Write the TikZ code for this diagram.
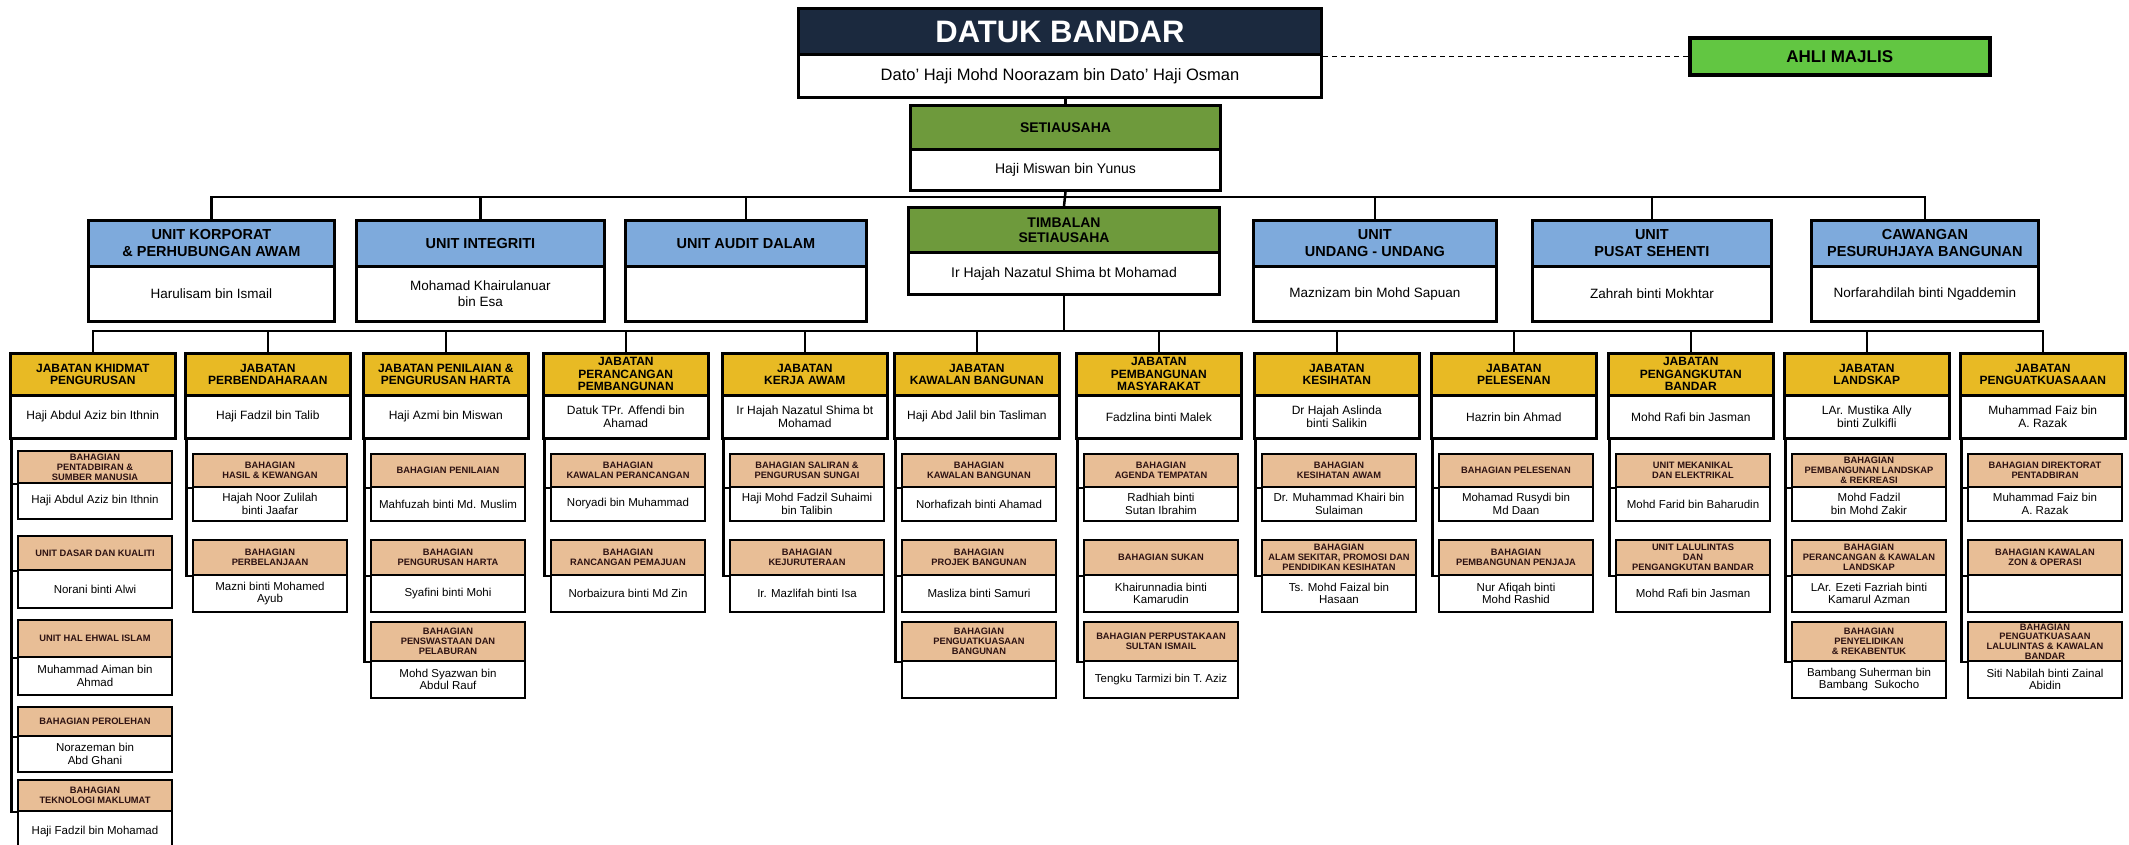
\documentclass[tikz,border=0pt]{standalone}
\usepackage{fontspec}
\setmainfont{Liberation Sans}
\usetikzlibrary{backgrounds}
\newcommand\fsz[2]{\fontsize{#1}{#2}\selectfont}
\definecolor{cNavy}{RGB}{27,41,62}
\definecolor{cAhli}{RGB}{98,198,66}
\definecolor{cOlive}{RGB}{110,154,60}
\definecolor{cBlue}{RGB}{126,170,220}
\definecolor{cGold}{RGB}{232,186,36}
\definecolor{cTan}{RGB}{232,190,150}
\definecolor{cSubTxt}{RGB}{45,18,18}
% box with header and body: name, left, right, top, split, bottom, kind, header text, body text
\newcommand\obox[9]{%
  \pgfmathsetmacro\oboxW{#3-#2}%
  \pgfmathsetmacro\oboxH{#5-#4}%
  \pgfmathsetmacro\oboxB{#6-#5}%
  \node[#7head, minimum width=\oboxW pt, minimum height=\oboxH pt, anchor=north west] (#1h) at (#2,#4) {#8};
  \node[#7body, minimum width=\oboxW pt, minimum height=\oboxB pt, anchor=north west] (#1b) at (#2,#5) {#9};
}
\newcommand\dept[4]{%
  \pgfmathsetmacro\deptR{#2+165}%
  \obox{#1}{#2}{\deptR}{352}{394}{437}{dept}{#3}{#4}}
\newcommand\subbox[7]{%
  \pgfmathsetmacro\subL{#2+8}%
  \pgfmathsetmacro\subR{#2+162}%
  \obox{#1}{\subL}{\subR}{#3}{#4}{#5}{sub}{#6}{#7}}
\newcommand\spine[2]{%
  \coordinate (#1sp) at ([xshift=2.5pt]#1b.south west);
  \foreach \sname in {#2}{\draw[conn] (#1sp) |- (\sname h.south west);}}
\begin{document}
\begin{tikzpicture}[x=1pt,y=-1pt,
  box/.style={draw=black, inner sep=1pt, align=center, text=black},
  tophead/.style={box, fill=cNavy, text=white, font={\bfseries\fsz{31}{34}}, line width=3pt},
  topbody/.style={box, fill=white, font={\fsz{16.5}{18}}, line width=3pt},
  greenhead/.style={box, fill=cOlive, font={\bfseries\fsz{14}{15.5}}, line width=3pt},
  greenbody/.style={box, fill=white, font={\fsz{14}{16}}, line width=3pt},
  unithead/.style={box, fill=cBlue, font={\bfseries\fsz{14.5}{17}}, line width=2.8pt},
  unitbody/.style={box, fill=white, font={\fsz{13.5}{16}}, line width=2.8pt},
  depthead/.style={box, fill=cGold, font={\bfseries\fsz{12}{12.5}}, line width=2.6pt},
  deptbody/.style={box, fill=white, font={\fsz{12}{12.8}}, line width=2.6pt},
  subhead/.style={box, fill=cTan, text=cSubTxt, font={\bfseries\fsz{9.3}{9.8}}, line width=2pt},
  subbody/.style={box, fill=white, font={\fsz{11.5}{12.5}}, line width=2pt},
  ahlibox/.style={box, fill=cAhli, font={\bfseries\fsz{17}{19}}, line width=3.5pt},
  conn/.style={draw=black, line width=2.5pt},
  dashconn/.style={draw=black, line width=1.3pt, dash pattern=on 5pt off 4pt}]
\begin{pgfonlayer}{background}
\fill[white] (0,0) rectangle (2129,844);
\end{pgfonlayer}
\useasboundingbox (0,0) rectangle (2129,844);

% top level
\obox{datuk}{797}{1320}{7}{53}{96}{top}{DATUK BANDAR}{Dato' Haji Mohd Noorazam bin Dato' Haji Osman}
\node[ahlibox, minimum width=300pt, minimum height=37pt, anchor=north west] (ahli) at (1688,36) {AHLI MAJLIS};
\obox{setia}{909}{1219}{104}{148}{189}{green}{SETIAUSAHA}{Haji Miswan bin Yunus}
\obox{timb}{907}{1218}{206}{251}{293}{green}{TIMBALAN\\SETIAUSAHA}{Ir Hajah Nazatul Shima bt Mohamad}

% units
\obox{kor}{87}{333}{219}{265}{320}{unit}{UNIT KORPORAT\\\& PERHUBUNGAN AWAM}{Harulisam bin Ismail}
\obox{int}{355}{603}{219}{265}{320}{unit}{UNIT INTEGRITI}{Mohamad Khairulanuar\\bin Esa}
\obox{aud}{624}{865}{219}{265}{320}{unit}{UNIT AUDIT DALAM}{}
\obox{und}{1252}{1495}{219}{265}{320}{unit}{UNIT\\UNDANG - UNDANG}{Maznizam bin Mohd Sapuan}
\obox{pus}{1531}{1770}{219}{265}{320}{unit}{UNIT\\PUSAT SEHENTI}{Zahrah binti Mokhtar}
\obox{caw}{1810}{2037}{219}{265}{320}{unit}{CAWANGAN\\PESURUHJAYA BANGUNAN}{Norfarahdilah binti Ngaddemin}

% departments
\dept{d1}{9}{JABATAN KHIDMAT\\PENGURUSAN}{Haji Abdul Aziz bin Ithnin}
\dept{d2}{184}{JABATAN\\PERBENDAHARAAN}{Haji Fadzil bin Talib}
\dept{d3}{362}{JABATAN PENILAIAN \&\\PENGURUSAN HARTA}{Haji Azmi bin Miswan}
\dept{d4}{542}{JABATAN\\PERANCANGAN\\PEMBANGUNAN}{Datuk TPr. Affendi bin\\Ahamad}
\dept{d5}{721}{JABATAN\\KERJA AWAM}{Ir Hajah Nazatul Shima bt\\Mohamad}
\dept{d6}{893}{JABATAN\\KAWALAN BANGUNAN}{Haji Abd Jalil bin Tasliman}
\dept{d7}{1075}{JABATAN\\PEMBANGUNAN\\MASYARAKAT}{Fadzlina binti Malek}
\dept{d8}{1253}{JABATAN\\KESIHATAN}{Dr Hajah Aslinda\\binti Salikin}
\dept{d9}{1430}{JABATAN\\PELESENAN}{Hazrin bin Ahmad}
\dept{d10}{1607}{JABATAN\\PENGANGKUTAN\\BANDAR}{Mohd Rafi bin Jasman}
\dept{d11}{1783}{JABATAN\\LANDSKAP}{LAr. Mustika Ally\\binti Zulkifli}
\dept{d12}{1959}{JABATAN\\PENGUATKUASAAAN}{Muhammad Faiz bin\\A. Razak}

% sub-divisions
\subbox{s1a}{9}{450}{482}{518}{BAHAGIAN\\PENTADBIRAN \&\\SUMBER MANUSIA}{Haji Abdul Aziz bin Ithnin}
\subbox{s1b}{9}{535}{569}{607}{UNIT DASAR DAN KUALITI}{Norani binti Alwi}
\subbox{s1c}{9}{619}{656}{694}{UNIT HAL EHWAL ISLAM}{Muhammad Aiman bin\\Ahmad}
\subbox{s1d}{9}{706}{735}{771}{BAHAGIAN PEROLEHAN}{Norazeman bin\\Abd Ghani}
\subbox{s1e}{9}{779}{810}{852}{BAHAGIAN\\TEKNOLOGI MAKLUMAT}{Haji Fadzil bin Mohamad}

\subbox{s2a}{184}{453}{486}{520}{BAHAGIAN\\HASIL \& KEWANGAN}{Hajah Noor Zulilah\\binti Jaafar}
\subbox{s2b}{184}{539}{574}{611}{BAHAGIAN\\PERBELANJAAN}{Mazni binti Mohamed\\Ayub}

\subbox{s3a}{362}{453}{486}{520}{BAHAGIAN PENILAIAN}{Mahfuzah binti Md. Muslim}
\subbox{s3b}{362}{539}{574}{611}{BAHAGIAN\\PENGURUSAN HARTA}{Syafini binti Mohi}
\subbox{s3c}{362}{621}{660}{697}{BAHAGIAN\\PENSWASTAAN DAN\\PELABURAN}{Mohd Syazwan bin\\Abdul Rauf}

\subbox{s4a}{542}{453}{486}{520}{BAHAGIAN\\KAWALAN PERANCANGAN}{Noryadi bin Muhammad}
\subbox{s4b}{542}{539}{574}{611}{BAHAGIAN\\RANCANGAN PEMAJUAN}{Norbaizura binti Md Zin}

\subbox{s5a}{721}{453}{486}{520}{BAHAGIAN SALIRAN \&\\PENGURUSAN SUNGAI}{Haji Mohd Fadzil Suhaimi\\bin Talibin}
\subbox{s5b}{721}{539}{574}{611}{BAHAGIAN\\KEJURUTERAAN}{Ir. Mazlifah binti Isa}

\subbox{s6a}{893}{453}{486}{520}{BAHAGIAN\\KAWALAN BANGUNAN}{Norhafizah binti Ahamad}
\subbox{s6b}{893}{539}{574}{611}{BAHAGIAN\\PROJEK BANGUNAN}{Masliza binti Samuri}
\subbox{s6c}{893}{621}{660}{697}{BAHAGIAN\\PENGUATKUASAAN\\BANGUNAN}{}

\subbox{s7a}{1075}{453}{486}{520}{BAHAGIAN\\AGENDA TEMPATAN}{Radhiah binti\\Sutan Ibrahim}
\subbox{s7b}{1075}{539}{574}{611}{BAHAGIAN SUKAN}{Khairunnadia binti\\Kamarudin}
\subbox{s7c}{1075}{621}{660}{697}{BAHAGIAN PERPUSTAKAAN\\SULTAN ISMAIL}{Tengku Tarmizi bin T. Aziz}

\subbox{s8a}{1253}{453}{486}{520}{BAHAGIAN\\KESIHATAN AWAM}{Dr. Muhammad Khairi bin\\Sulaiman}
\subbox{s8b}{1253}{539}{574}{611}{BAHAGIAN\\ALAM SEKITAR, PROMOSI DAN\\PENDIDIKAN KESIHATAN}{Ts. Mohd Faizal bin\\Hasaan}

\subbox{s9a}{1430}{453}{486}{520}{BAHAGIAN PELESENAN}{Mohamad Rusydi bin\\Md Daan}
\subbox{s9b}{1430}{539}{574}{611}{BAHAGIAN\\PEMBANGUNAN PENJAJA}{Nur Afiqah binti\\Mohd Rashid}

\subbox{s10a}{1607}{453}{486}{520}{UNIT MEKANIKAL\\DAN ELEKTRIKAL}{Mohd Farid bin Baharudin}
\subbox{s10b}{1607}{539}{574}{611}{UNIT LALULINTAS\\DAN\\PENGANGKUTAN BANDAR}{Mohd Rafi bin Jasman}

\subbox{s11a}{1783}{453}{486}{520}{BAHAGIAN\\PEMBANGUNAN LANDSKAP\\\& REKREASI}{Mohd Fadzil\\bin Mohd Zakir}
\subbox{s11b}{1783}{539}{574}{611}{BAHAGIAN\\PERANCANGAN \& KAWALAN\\LANDSKAP}{LAr. Ezeti Fazriah binti\\Kamarul Azman}
\subbox{s11c}{1783}{621}{660}{697}{BAHAGIAN\\PENYELIDIKAN\\\& REKABENTUK}{Bambang Suherman bin\\Bambang\ \ Sukocho}

\subbox{s12a}{1959}{453}{486}{520}{BAHAGIAN DIREKTORAT\\PENTADBIRAN}{Muhammad Faiz bin\\A. Razak}
\subbox{s12b}{1959}{539}{574}{611}{BAHAGIAN KAWALAN\\ZON \& OPERASI}{}
\subbox{s12c}{1959}{621}{660}{697}{BAHAGIAN\\PENGUATKUASAAN\\LALULINTAS \& KAWALAN\\BANDAR}{Siti Nabilah binti Zainal\\Abidin}

% connectors
\begin{pgfonlayer}{background}
\draw[dashconn] (ahli.west -| datukb.north east) -- (ahli.west);
\draw[conn] (setiah.north |- datukb.south) -- (setiah.north);
\draw[conn] (setiab.south) -- (timbh.north);
\coordinate (ubus) at (setiab.south |- 0,197);
\foreach \nm in {kor,int,aud,und,pus,caw}{\draw[conn] (\nm h.north) |- (ubus);}
\coordinate (dbus) at (timbb.south |- 0,331);
\draw[conn] (timbb.south) -- (dbus);
\foreach \nm in {d1,d2,d3,d4,d5,d6,d7,d8,d9,d10,d11,d12}{\draw[conn] (\nm h.north) |- (dbus);}
\spine{d1}{s1a,s1b,s1c,s1d,s1e}
\spine{d2}{s2a,s2b}
\spine{d3}{s3a,s3b,s3c}
\spine{d4}{s4a,s4b}
\spine{d5}{s5a,s5b}
\spine{d6}{s6a,s6b,s6c}
\spine{d7}{s7a,s7b,s7c}
\spine{d8}{s8a,s8b}
\spine{d9}{s9a,s9b}
\spine{d10}{s10a,s10b}
\spine{d11}{s11a,s11b,s11c}
\spine{d12}{s12a,s12b,s12c}
\end{pgfonlayer}
\end{tikzpicture}
\end{document}
